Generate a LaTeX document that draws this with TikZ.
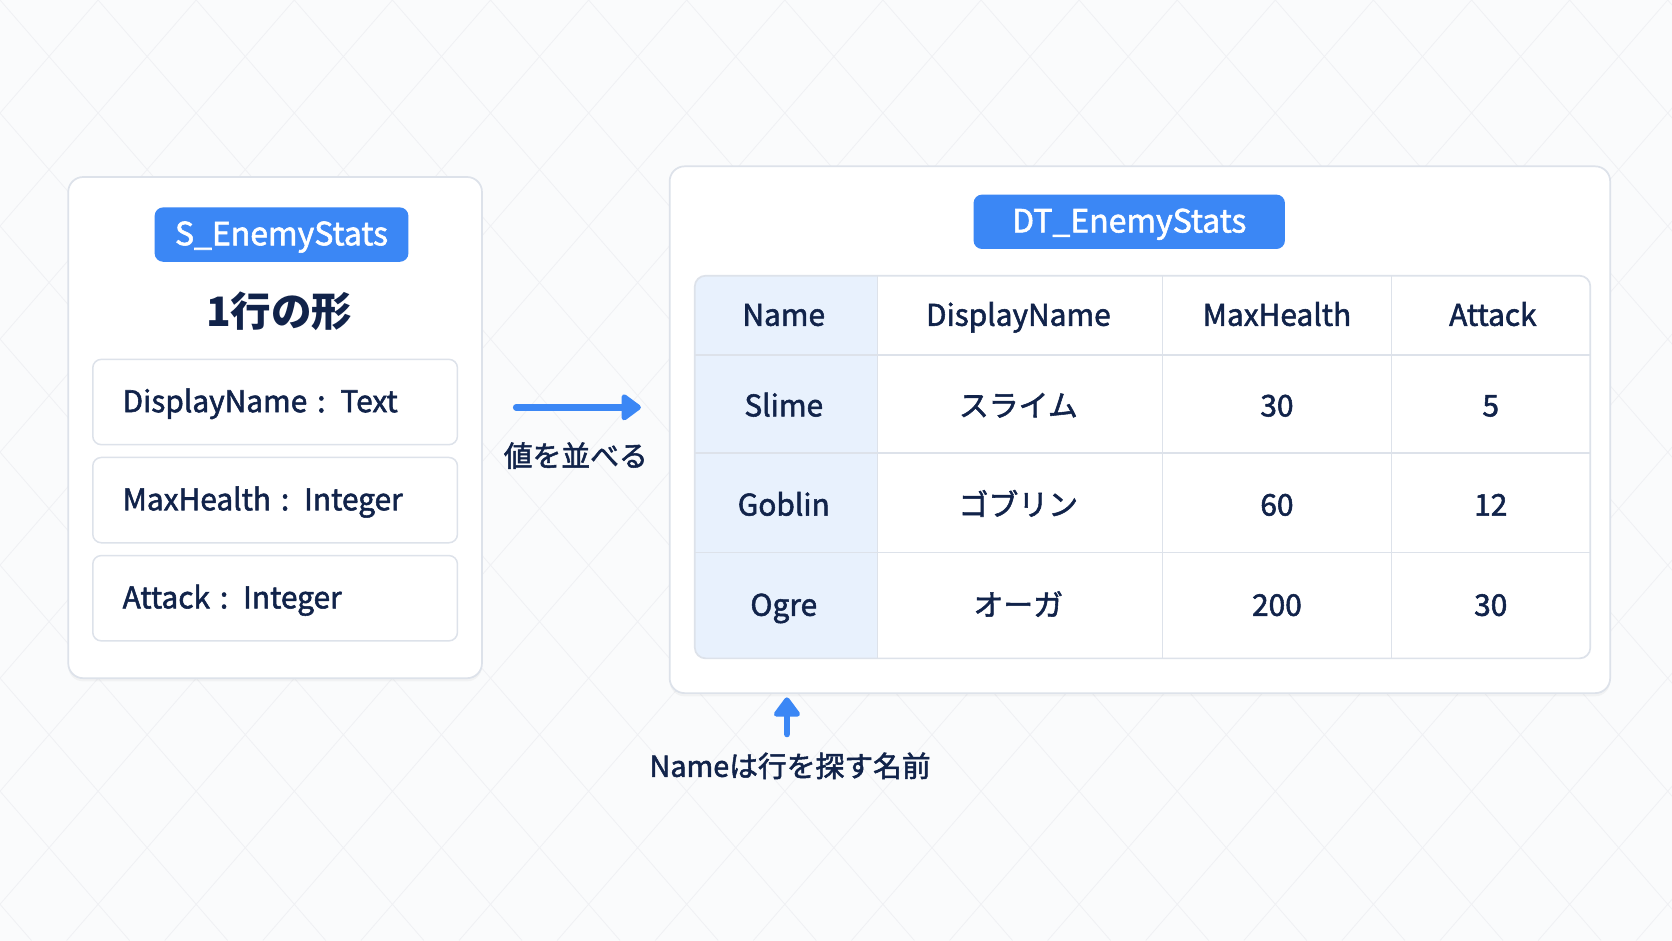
\documentclass[tikz,border=0pt]{standalone}
\usepackage{fontspec}
\setmainfont{Noto Sans CJK JP}[UprightFeatures={FakeBold=1.8}]
\usepackage{tikz}
\usetikzlibrary{arrows.meta, positioning, calc, shadows, backgrounds}

\definecolor{bgcol}{HTML}{FAFBFC}
\definecolor{bgline}{HTML}{F0F1F4}
\definecolor{ink}{HTML}{11234A}
\definecolor{accent}{HTML}{3B87F5}
\definecolor{edge}{HTML}{DDE2EA}
\definecolor{namefill}{HTML}{E8F1FD}

\begin{document}
\begin{tikzpicture}[
    x=0.5pt, y=-0.5pt,
    font=\fontsize{14pt}{17pt}\selectfont,
    text=ink,
    panel/.style={draw=edge, line width=0.8pt, fill=white, rounded corners=7pt, drop shadow={opacity=0.07, shadow xshift=0pt, shadow yshift=-1.5pt}},
    badge/.style={fill=accent, rounded corners=4pt, text=white, font=\fontsize{15pt}{18pt}\selectfont, minimum height=25.5pt, inner sep=0pt, text height=11pt, text depth=1pt},
    field/.style={draw=edge, line width=0.7pt, fill=white, rounded corners=4pt, minimum height=40pt, text width=143pt, inner xsep=14pt, align=left, text height=10.5pt, text depth=1pt},
    cell/.style={inner sep=0pt, text height=10.5pt, text depth=1pt},
    flow/.style={line width=3pt, draw=accent, line cap=round, -{Triangle[length=10pt, width=14pt, round]}},
    note/.style={font=\fontsize{13.5pt}{16pt}\selectfont, text height=10.5pt, text depth=1pt}
]

% === CANVAS ===
\fill[bgcol] (0,0) rectangle (1568,882);
\begin{scope}
    \clip (0,0) rectangle (1568,882);
    \foreach \k in {-9,...,26} {
        \draw[bgline, line width=0.4pt] (\k*92,0) -- ++(765.5,882);
        \draw[bgline, line width=0.4pt] (\k*92,0) -- ++(-765.5,882);
    }
\end{scope}
\useasboundingbox (0,0) rectangle (1568,882);

% === LEFT: struct ===
\node[panel, minimum width=194pt, minimum height=235pt] (struct) at (258,401) {};
\node[badge, minimum width=119pt] (sbadge) at (264,220) {S\_EnemyStats};
\node[font=\fontsize{19pt}{22pt}\selectfont\bfseries] (rowshape) at (262,292) {1行の形};

\node[field] (fdisp) at (258,377) {DisplayName : Text};
\node[field] (fhp) at (258,469) {MaxHealth : Integer};
\node[field] (fatk) at (258,561) {Attack : Integer};

% === ARROW: struct -> table ===
\coordinate (spreadA) at (484,382);
\coordinate (spreadB) at (601,382);
\draw[flow] (spreadA) -- (spreadB);
\node[note] (spread) at (540,428) {値を並べる};

% === RIGHT: data table ===
\node[panel, minimum width=441pt, minimum height=247pt] (dtable) at (1069,403) {};
\node[badge, minimum width=146pt] (dbadge) at (1059,208) {DT\_EnemyStats};

\node[fill=white, rounded corners=5pt, minimum width=419.5pt, minimum height=179pt, inner sep=0pt] (grid) at (1071.5,438) {};
\begin{scope}
    \clip[rounded corners=5pt] (grid.north west) rectangle (grid.south east);
    \fill[namefill] (652,259) rectangle (823,617);
\end{scope}
\foreach \gx in {823,1090,1305}
    \draw[edge, line width=0.7pt] (\gx,259) -- (\gx,617);
\foreach \gy in {333,425,518}
    \draw[edge, line width=0.7pt] (652,\gy) -- (1491,\gy);
\draw[edge, line width=0.8pt, rounded corners=5pt] (grid.north west) rectangle (grid.south east);

% header row
\foreach \cx/\txt [count=\c] in {735/Name, 955/DisplayName, 1197.5/MaxHealth, 1400/Attack}
    \node[cell] (head-\c) at (\cx,296) {\txt};

% data rows
\foreach \ry/\nm/\dn/\hp/\atk [count=\r] in {381/Slime/スライム/30/5, 474/Goblin/ゴブリン/60/12, 568/Ogre/オーガ/200/30} {
    \node[cell] (name-\r) at (735,\ry) {\nm};
    \node[cell] (disp-\r) at (955,\ry) {\dn};
    \node[cell] (hp-\r) at (1197.5,\ry) {\hp};
    \node[cell] (atk-\r) at (1398,\ry) {\atk};
}

% === KEY HINT ===
\node[note] (hint) at (741,719) {Nameは行を探す名前};
\coordinate (hinttip) at (738,654);
\draw[flow, shorten <=6pt] (hint.north -| hinttip) -- (hinttip);

\end{tikzpicture}
\end{document}
